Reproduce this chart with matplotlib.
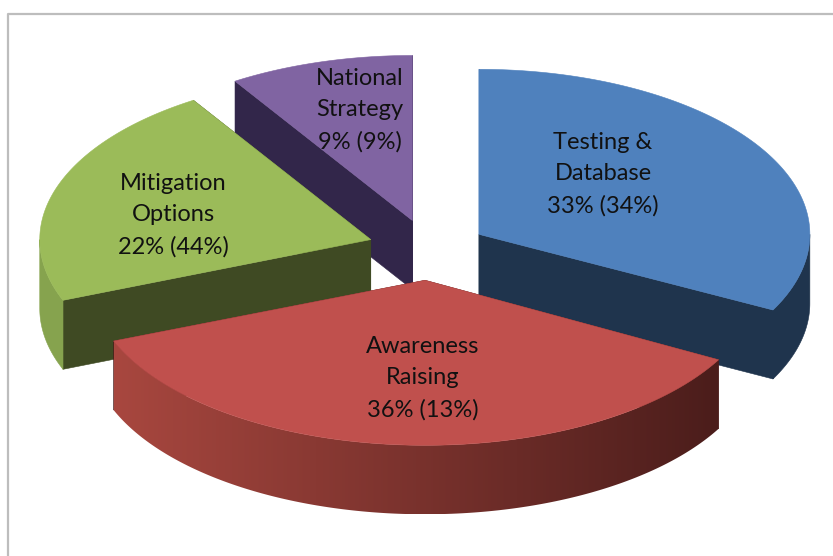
import numpy as np
import matplotlib
matplotlib.use("Agg")
import matplotlib.pyplot as plt
from matplotlib.colors import LinearSegmentedColormap
from matplotlib.patches import Polygon

# values
names = ["Testing &\nDatabase", "Awareness\nRaising", "Mitigation\nOptions", "National\nStrategy"]
share = [33, 36, 22, 9]
other = [34, 13, 44, 9]

# CONFIGURATION
top_cols = ["#4F81BD", "#C0504D", "#9BBB59", "#8064A2"]
cut_cols = ["#1F344D", "#4B1D1B", "#3F4A23", "#32264A"]
wall_cols = [("#1F344D", "#1F344D"), ("#A8473F", "#4B1D1B"), ("#86A34E", "#86A34E"), ("#32264A", "#32264A")]
label_xy = [(603, 174), (423, 378), (173, 215), (360, 110)]
explode = [0.175, 0.19, 0.185, 0.18]
scale = [1.0, 1.012, 1.0, 1.0]  # front slice looks a bit wider
end_nudge = [-1.5, 0, 0, 0]  # perspective pulls this edge back a little
cx, cy = 429, 249
rx, ry = 331, 165
depth = 69

plt.rcParams['font.family'] = ['Lato', 'DejaVu Sans']

fig = plt.figure(figsize=(8.33, 5.56), dpi=100)
ax = fig.add_axes([0, 0, 1, 1])

# chart frame
ax.plot([8, 8, 833], [556, 14, 14], color="#BDBDBD", lw=1.6, solid_joinstyle="round")


def pt(deg, ox, oy, r=1.0, k=1.0):
    a = np.radians(deg)
    return ox + rx * r * k * np.sin(a), oy - ry * r * np.cos(a)


def fill(xs, ys, col, z):
    ax.fill(xs, ys, facecolor=col, edgecolor=col, lw=0.4, zorder=z)


edges = np.concatenate([[0], np.cumsum(share)]) / sum(share) * 360
# back slices first so the front ones cover them
for z, i in enumerate([3, 2, 0, 1]):
    a0, a1 = edges[i], edges[i + 1]
    mid = (a0 + a1) / 2
    a1 = a1 + end_nudge[i]
    ox, oy = pt(mid, cx, cy, explode[i])
    k = scale[i]
    base = 2 + z * 3

    # cut faces
    for a in (a0, a1):
        x, y = pt(a, ox, oy, k=k)
        fill([ox, x, x, ox], [oy, y, y + depth, oy + depth], cut_cols[i], base)

    # outer wall, only the part facing the viewer, shaded left to right
    lo, hi = max(a0, 90), min(a1, 270)
    if lo < hi:
        arc = np.linspace(lo, hi, 200)
        xs, ys = pt(arc, ox, oy, k=k)
        vx, vy = np.r_[xs, xs[::-1]], np.r_[ys, ys[::-1] + depth]
        if wall_cols[i][0] == wall_cols[i][1]:
            fill(vx, vy, wall_cols[i][0], base + 1)
        else:
            wall = Polygon(np.c_[vx, vy], closed=True, facecolor="none", edgecolor="none")
            ax.add_patch(wall)
            cmap = LinearSegmentedColormap.from_list("wall", wall_cols[i])
            img = ax.imshow(np.linspace(0, 1, 256)[None, :], cmap=cmap, aspect="auto",
                            extent=[xs.min(), xs.max(), ys.max() + depth, ys.min()],
                            interpolation="bilinear", zorder=base + 1)
            img.set_clip_path(wall)

    # top face
    arc = np.linspace(a0, a1, 200)
    xs, ys = pt(arc, ox, oy, k=k)
    fill(np.r_[ox, xs], np.r_[oy, ys], top_cols[i], base + 2)

for i in range(len(names)):
    ax.text(label_xy[i][0], label_xy[i][1], f"{names[i]}\n{share[i]}% ({other[i]}%)",
            ha="center", va="center", ma="center", fontsize=17, linespacing=1.62,
            color="#111111", zorder=20)

ax.set_xlim(0, 833)
ax.set_ylim(556, 0)
ax.axis("off")

fig.savefig("out.png", dpi=100)
